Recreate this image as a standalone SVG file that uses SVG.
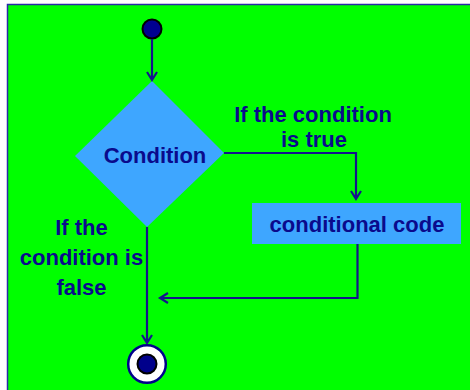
<svg xmlns="http://www.w3.org/2000/svg" width="470" height="390" viewBox="0 0 470 390">
<style>
.lbl{font-family:"Liberation Sans",Arial,sans-serif;font-weight:bold;font-size:22px;fill:#0a0a8c;text-anchor:middle}
.ln{fill:none;stroke:#14148c;stroke-width:2.2}
.shape{fill:#3ea6ff}
</style>
<rect x="0" y="0" width="470" height="390" fill="#ffffff"/>
<rect x="7.5" y="4.5" width="470" height="400" fill="#00ff00" stroke="#2a2aa8" stroke-width="1.5"/>
<g id="start"><circle cx="152" cy="29" r="9.5" fill="#000090" stroke="#000" stroke-width="2"/></g>
<g id="condition"><polygon class="shape" points="152,81 224,153 147,227 75,156"/><text class="lbl" x="155" y="163">Condition</text></g>
<g id="code"><rect class="shape" x="252" y="203" width="209" height="41"/><text class="lbl" x="357" y="232">conditional code</text></g>
<g id="end"><circle cx="147" cy="364" r="18.8" fill="#fff" stroke="#00008b" stroke-width="2.5"/><circle cx="147" cy="364" r="9.5" fill="#00008b" stroke="#000" stroke-width="2"/></g>
<g id="connectors">
<path class="ln" d="M152,39 V80 M147,72 L152,80 L157,72"/>
<path class="ln" d="M224,153 H356 V199 M351,191 L356,199 L361,191"/>
<path class="ln" d="M357.5,244 V298 H160 M168,293 L160,298 L168,303"/>
<path class="ln" d="M147,227 V343 M142,335 L147,343 L152,335"/>
</g>
<g id="labels">
<text class="lbl"><tspan x="313" y="121.5">If the condition</tspan><tspan x="314" y="146.5">is true</tspan></text>
<text class="lbl"><tspan x="81.5" y="235">If the</tspan><tspan x="81.5" y="265">condition is</tspan><tspan x="81.5" y="295">false</tspan></text>
</g>
</svg>
